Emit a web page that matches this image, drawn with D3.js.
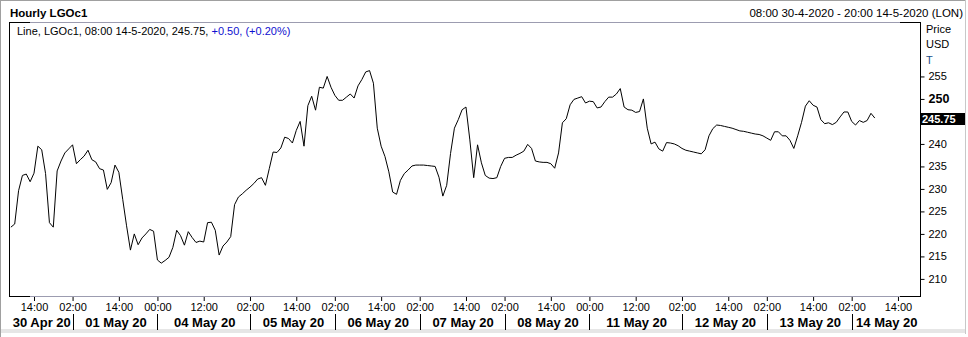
<!DOCTYPE html>
<html>
<head>
<meta charset="utf-8">
<script src="https://cdn.jsdelivr.net/npm/d3@7"></script>
<style>
body { margin: 0; background: #fff; }
svg { display: block; font-family: "Liberation Sans", Arial, sans-serif; }
</style>
</head>
<body>
<svg id="chart" width="968" height="337"></svg>
<script>
// Hourly closes, 30 Apr 08:00 -> 14 May 08:00 (one value per trading hour)
const prices = [
  221.5, 222.2, 229.6, 233.0, 233.3, 231.6, 233.5, 239.5, 238.7, 233.4,
  222.5, 221.5, 234.0, 236.2, 238.0, 238.9, 239.8, 235.6, 236.5, 237.3,
  238.6, 236.5, 236.0, 234.5, 234.2, 229.9, 231.4, 235.3, 233.7, 227.7,
  221.8, 216.4, 220.0, 217.6, 219.1, 220.0, 221.0, 220.6, 214.2, 213.5,
  214.1, 214.8, 217.0, 220.8, 219.6, 217.5, 220.5, 219.2, 218.1, 218.4,
  218.2, 222.5, 222.6, 220.8, 215.3, 217.3, 218.2, 219.4, 226.5, 228.2,
  228.9, 229.7, 230.4, 231.2, 232.2, 232.5, 230.8, 234.5, 238.2, 238.1,
  239.1, 241.5, 241.2, 240.2, 243.0, 245.0, 239.5, 248.5, 250.6, 247.5,
  252.6, 252.4, 255.0, 252.6, 250.8, 249.7, 249.7, 250.4, 251.1, 250.2,
  252.9, 254.3, 256.0, 256.3, 253.5, 243.5, 239.5, 237.2, 233.8, 229.3,
  228.8, 231.9, 233.4, 234.2, 235.1, 235.3, 235.3, 235.3, 235.2, 235.1,
  235.0, 232.6, 228.4, 230.8, 237.9, 243.5, 245.4, 247.6, 248.2, 240.9,
  232.5, 239.8, 235.8, 233.0, 232.4, 232.3, 232.5, 235.0, 236.8, 237.0,
  237.0, 237.5, 237.9, 238.4, 239.9, 239.0, 236.2, 236.0, 235.9, 235.9,
  235.6, 234.6, 238.0, 244.7, 245.6, 248.7, 249.9, 250.2, 250.5, 249.1,
  249.5, 249.4, 248.0, 248.2, 249.4, 250.4, 250.4, 251.1, 252.3, 248.2,
  247.6, 247.5, 247.0, 247.2, 250.0, 243.5, 240.0, 240.4, 238.9, 238.4,
  240.3, 240.2, 240.0, 239.6, 239.0, 238.6, 238.4, 238.2, 238.0, 237.8,
  238.7, 241.8, 243.4, 244.2, 244.1, 243.9, 243.7, 243.5, 243.2, 242.9,
  242.8, 242.6, 242.4, 242.2, 242.1, 241.8, 241.3, 240.8, 242.7, 242.7,
  241.8, 241.8, 240.8, 239.0, 241.8, 244.8, 248.4, 249.6, 248.6, 248.2,
  245.4, 244.5, 244.7, 244.3, 244.8, 246.0, 247.1, 247.1, 245.0, 244.2,
  245.2, 244.8, 245.2, 246.8, 245.75
];

// time axis: bar index of each labelled hour
const timeTickIdx = [6, 16, 28, 38, 50, 62, 74, 84, 96, 106, 118, 128, 140, 150, 162, 174, 186, 196, 208, 218, 230];
const timeTickLabels = ["14:00", "02:00", "14:00", "00:00", "12:00", "02:00", "14:00", "02:00", "14:00", "02:00", "14:00",
  "02:00", "14:00", "00:00", "12:00", "02:00", "14:00", "02:00", "14:00", "02:00", "14:00"];
const dayStartIdx = [16, 38, 62, 84, 106, 128, 150, 174, 196, 218];
const dayLabels = ["30 Apr 20", "01 May 20", "04 May 20", "05 May 20", "06 May 20", "07 May 20",
  "08 May 20", "11 May 20", "12 May 20", "13 May 20", "14 May 20"];
const lastBarIdx = 236; // 14 May 20:00

const priceTicks = [255, 250, 240, 235, 230, 225, 220, 215, 210];
const lastPrice = 245.75;

const plot = { left: 9, right: 920, top: 22, bottom: 296 };

const svg = d3.select("#chart");

// outer frame
svg.append("rect")
  .attr("x", 1).attr("y", 329).attr("width", 964).attr("height", 4)
  .attr("fill", "#e6e6e6");
svg.append("line").attr("x1", 0.5).attr("x2", 0.5).attr("y1", 0).attr("y2", 337)
  .attr("stroke", "#a0a0a0");
svg.append("line").attr("x1", 0).attr("x2", 966).attr("y1", 0.5).attr("y2", 0.5)
  .attr("stroke", "#a0a0a0");
svg.append("line").attr("x1", 965.5).attr("x2", 965.5).attr("y1", 0).attr("y2", 334)
  .attr("stroke", "#c8c8c8");

// scales
const x = d3.scaleLinear().domain([0, lastBarIdx]).range([10.86, 921.1]);
const y = d3.scaleLinear().domain([206.2, 267.1]).range([plot.bottom, plot.top]);

// plot box: grey top/bottom, black sides and corners
const box = svg.append("g").attr("shape-rendering", "crispEdges");
box.append("line").attr("x1", plot.left).attr("x2", plot.right).attr("y1", plot.top + 0.5).attr("y2", plot.top + 0.5)
  .attr("stroke", "#9c9cb0");
box.append("line").attr("x1", plot.left).attr("x2", plot.right).attr("y1", plot.bottom + 0.5).attr("y2", plot.bottom + 0.5)
  .attr("stroke", "#9c9cb0");
[[plot.left, plot.left + 21], [plot.right - 20, plot.right]].forEach(([a, b]) => {
  [plot.top, plot.bottom].forEach(yy => {
    box.append("line").attr("x1", a).attr("x2", b).attr("y1", yy + 0.5).attr("y2", yy + 0.5).attr("stroke", "#000");
  });
});
box.append("line").attr("x1", plot.left + 0.5).attr("x2", plot.left + 0.5).attr("y1", plot.top).attr("y2", plot.bottom + 1)
  .attr("stroke", "#000");
box.append("line").attr("x1", plot.right + 0.5).attr("x2", plot.right + 0.5).attr("y1", plot.top).attr("y2", plot.bottom + 1)
  .attr("stroke", "#000");

// price line
const line = d3.line()
  .x((d, i) => x(i))
  .y(d => y(d));

svg.append("path")
  .datum(prices)
  .attr("fill", "none")
  .attr("stroke", "#000")
  .attr("stroke-width", 1)
  .attr("stroke-linejoin", "round")
  .attr("d", line);

// right price axis
const yAxis = d3.axisRight(y)
  .tickValues(priceTicks)
  .tickSize(4)
  .tickPadding(4)
  .tickFormat(d3.format("d"));

const yg = svg.append("g")
  .attr("transform", "translate(" + (plot.right + 0.5) + ",0)")
  .call(yAxis);
yg.select(".domain").remove();
yg.selectAll(".tick line").attr("stroke", "#000");
yg.selectAll(".tick text")
  .attr("fill", "#000")
  .style("font-family", "\"Liberation Sans\", Arial, sans-serif")
  .style("font-size", d => d === 250 ? "12.5px" : "11px")
  .style("font-weight", d => d === 250 ? "bold" : "normal");

svg.append("text").attr("x", 926).attr("y", 33).attr("font-size", 11).text("Price");
svg.append("text").attr("x", 926).attr("y", 48).attr("font-size", 11).text("USD");
svg.append("text").attr("x", 926).attr("y", 64).attr("font-size", 11).attr("fill", "#1a4f8a").text("T");

// last price marker
svg.append("rect")
  .attr("x", plot.right + 1).attr("y", Math.round(y(lastPrice)) - 5)
  .attr("width", 44).attr("height", 12)
  .attr("fill", "#000");
svg.append("text")
  .attr("x", plot.right + 2).attr("y", Math.round(y(lastPrice)) + 5)
  .attr("font-size", 11).attr("font-weight", "bold").attr("fill", "#fff")
  .text(lastPrice.toFixed(2));

// time axis
const xAxis = d3.axisBottom(x)
  .tickValues(timeTickIdx)
  .tickSize(4)
  .tickPadding(2)
  .tickFormat((d, i) => timeTickLabels[i]);

const xg = svg.append("g")
  .attr("transform", "translate(0," + (plot.bottom + 1) + ")")
  .call(xAxis);
xg.select(".domain").remove();
xg.selectAll(".tick line").attr("stroke", "#000");
xg.selectAll(".tick text")
  .attr("fill", "#000")
  .style("font-family", "\"Liberation Sans\", Arial, sans-serif")
  .style("font-size", "11px");

// day separators and labels
const bounds = [plot.left].concat(dayStartIdx.map(i => x(i)), [plot.right]);
svg.selectAll(".daysep")
  .data(dayStartIdx)
  .enter().append("line")
  .attr("class", "daysep")
  .attr("x1", d => Math.round(x(d)) + 0.5)
  .attr("x2", d => Math.round(x(d)) + 0.5)
  .attr("y1", 314).attr("y2", 330)
  .attr("stroke", "#000");

svg.selectAll(".daylab")
  .data(dayLabels)
  .enter().append("text")
  .attr("class", "daylab")
  .attr("x", (d, i) => (bounds[i] + bounds[i + 1]) / 2 + 1)
  .attr("y", 327)
  .attr("text-anchor", "middle")
  .attr("font-size", 13)
  .attr("font-weight", "bold")
  .text(d => d);

// header
svg.append("text").attr("x", 10).attr("y", 17)
  .attr("font-size", 11.5).attr("font-weight", "bold").text("Hourly LGOc1");
svg.append("text").attr("x", 963).attr("y", 17).attr("text-anchor", "end")
  .attr("font-size", 11.5).text("08:00 30-4-2020 - 20:00 14-5-2020 (LON)");

const legend = svg.append("text").attr("x", 17).attr("y", 35).attr("font-size", 11);
legend.append("tspan").attr("fill", "#000").text("Line, LGOc1, 08:00 14-5-2020, 245.75, ");
legend.append("tspan").attr("fill", "#1010d0").text("+0.50, (+0.20%)");
</script>
</body>
</html>
